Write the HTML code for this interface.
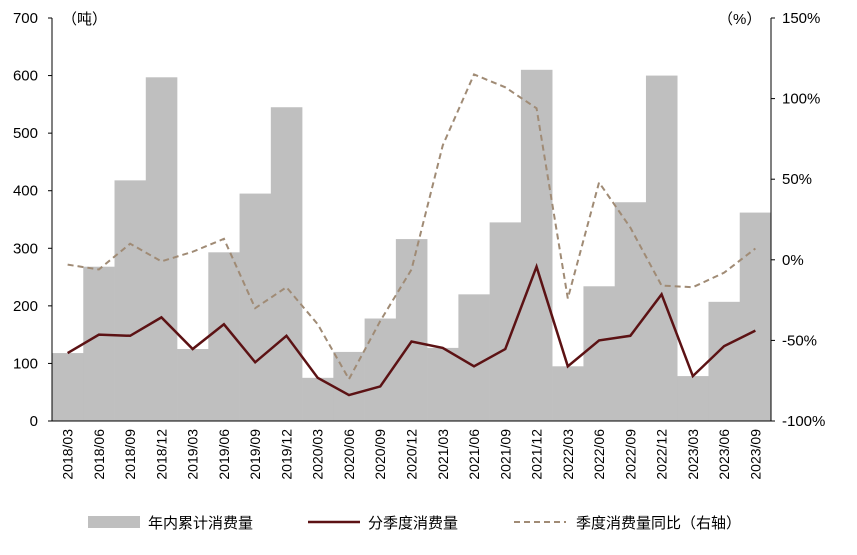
<!DOCTYPE html>
<html><head><meta charset="utf-8"><style>
body{margin:0;background:#fff;}
svg text{font-family:"Liberation Sans","Noto Sans CJK SC",sans-serif;fill:#000;}
</style></head><body>
<svg id="chart" width="857" height="550" xmlns="http://www.w3.org/2000/svg"></svg>
<script>
const categories=["2018/03","2018/06","2018/09","2018/12","2019/03","2019/06","2019/09","2019/12","2020/03","2020/06","2020/09","2020/12","2021/03","2021/06","2021/09","2021/12","2022/03","2022/06","2022/09","2022/12","2023/03","2023/06","2023/09"];
const cumulative=[118,268,418,597,125,293,395,545,75,120,178,316,127,220,345,610,95,234,380,600,78,207,362];
const quarterly=[118,150,148,180,125,168,102,148,75,45,60,138,127,95,125,268,95,140,148,220,78,130,157];
const yoy=[-3,-6,10,-1,5,13,-30,-17,-40,-74,-38,-6,71,115,107,94,-24,48,20,-16,-17,-8,7];
const leftTicks=[0,100,200,300,400,500,600,700];
const rightTicks=[-100,-50,0,50,100,150];
const svg=document.getElementById('chart');
const NS="http://www.w3.org/2000/svg";
const X0=52,X1=771,Y0=421,Y1=18;
const bw=(X1-X0)/categories.length;
const xc=i=>X0+bw*(i+0.5);
const yl=v=>Y0-(v/700)*(Y0-Y1);
const yr=v=>Y0-((v+100)/250)*(Y0-Y1);
function mk(tag,attrs,parent){const e=document.createElementNS(NS,tag);for(const k in attrs)e.setAttribute(k,attrs[k]);(parent||svg).appendChild(e);return e;}
const gb=mk('g',{});


cumulative.forEach((v,i)=>{const r=mk('rect',{x:X0+bw*i,y:yl(v),width:bw+0.3,height:Y0-yl(v),fill:'#bfbfbf'},gb);

});
const ax=mk('line',{x1:X0,y1:Y0,x2:X1,y2:Y0,stroke:'#000','stroke-width':1});


const yax=mk('line',{x1:X0,y1:Y1,x2:X0,y2:Y0,stroke:'#000','stroke-width':1});


const ryax=mk('line',{x1:X1,y1:Y1,x2:X1,y2:Y0,stroke:'#000','stroke-width':1});


leftTicks.forEach(v=>{const t=mk('text',{x:38,y:yl(v)+5,'text-anchor':'end','font-size':15});t.textContent=v;


mk('line',{x1:X0-4,y1:yl(v),x2:X0,y2:yl(v),stroke:'#000'});});
rightTicks.forEach(v=>{const t=mk('text',{x:782,y:yr(v)+5,'font-size':15});t.textContent=v+'%';


mk('line',{x1:X1,y1:yr(v),x2:X1+4,y2:yr(v),stroke:'#000'});});
categories.forEach((c,i)=>{const t=mk('text',{transform:`translate(${xc(i)+5},${Y0+8}) rotate(-90)`,'text-anchor':'end','font-size':14});t.textContent=c;

});
const u1=mk('text',{x:62,y:24,'font-size':15});u1.textContent='（吨）';


const u2=mk('text',{x:718,y:24,'font-size':15});u2.textContent='（%）';


const pq=mk('polyline',{points:quarterly.map((v,i)=>xc(i)+','+yl(v)).join(' '),fill:'none',stroke:'#5c1214','stroke-width':2.5});


const py=mk('polyline',{points:yoy.map((v,i)=>xc(i)+','+yr(v)).join(' '),fill:'none',stroke:'#a08b75','stroke-width':2,'stroke-dasharray':'6,4'});


const lg=mk('g',{});


mk('rect',{x:88,y:516,width:52,height:12,fill:'#bfbfbf'},lg);
let t=mk('text',{x:148,y:528,'font-size':15},lg);t.textContent='年内累计消费量';
mk('line',{x1:308,y1:522,x2:360,y2:522,stroke:'#5c1214','stroke-width':2.5},lg);
t=mk('text',{x:368,y:528,'font-size':15},lg);t.textContent='分季度消费量';
mk('line',{x1:514,y1:522,x2:566,y2:522,stroke:'#a08b75','stroke-width':2,'stroke-dasharray':'6,4'},lg);
t=mk('text',{x:576,y:528,'font-size':15},lg);t.textContent='季度消费量同比（右轴）';
</script>
</body></html>
